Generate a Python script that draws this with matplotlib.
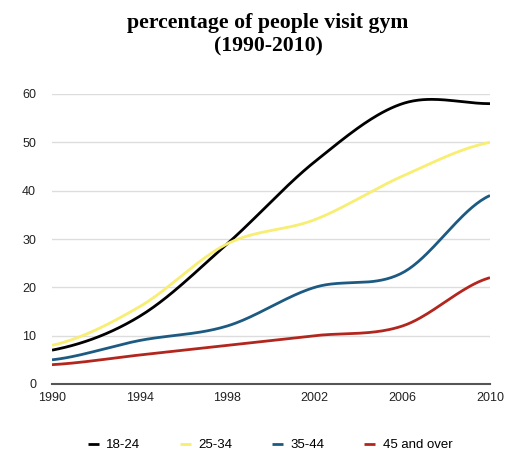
import numpy as np
import matplotlib.pyplot as plt

years = [1990, 1994, 1998, 2002, 2006, 2010]
age_18_24 = [7, 14, 29, 46, 58, 58]
age_25_34 = [8, 16, 29, 34, 43, 50]
age_35_44 = [5, 9, 12, 20, 23, 39]
age_45_over = [4, 6, 8, 10, 12, 22]

series = [("18-24", age_18_24, "#000000"),
          ("25-34", age_25_34, "#f7ee72"),
          ("35-44", age_35_44, "#1d5a82"),
          ("45 and over", age_45_over, "#b3261e")]


def smooth(x, y, n=40, k=0.5):
    # cardinal spline through the points, like the chart's curve mode
    x = np.asarray(x, float)
    y = np.asarray(y, float)
    xs, ys = [], []
    for i in range(len(x) - 1):
        y0 = y[i - 1] if i > 0 else y[i]
        y3 = y[i + 2] if i + 2 < len(y) else y[i + 1]
        m1 = k * (y[i + 1] - y0)
        m2 = k * (y3 - y[i])
        t = np.linspace(0, 1, n)
        h00 = 2 * t**3 - 3 * t**2 + 1
        h10 = t**3 - 2 * t**2 + t
        h01 = -2 * t**3 + 3 * t**2
        h11 = t**3 - t**2
        xs.append(x[i] + t * (x[i + 1] - x[i]))
        ys.append(h00 * y[i] + h10 * m1 + h01 * y[i + 1] + h11 * m2)
    return np.concatenate(xs), np.concatenate(ys)


plt.rcParams['font.family'] = ['Liberation Sans', 'DejaVu Sans']

fig = plt.figure(figsize=(5.12, 4.59), dpi=100)
ax = fig.add_axes([52 / 512, 1 - 384 / 459, 438 / 512, 290 / 459])

for label, vals, color in series:
    sx, sy = smooth(years, vals)
    ax.plot(sx, sy, color=color, lw=2, label=label, solid_capstyle='butt')

ax.set_xlim(1990, 2010)
ax.set_ylim(0, 60)
ax.set_xticks(years)
ax.set_yticks(range(0, 61, 10))
ax.grid(axis='y', color='#dddddd', lw=1)
ax.set_axisbelow(True)
for s in ['top', 'right', 'left']:
    ax.spines[s].set_visible(False)
ax.spines['bottom'].set_color('#555555')
ax.spines['bottom'].set_linewidth(1.5)
ax.tick_params(length=0, labelsize=9, colors='#222222')
ax.tick_params(axis='y', pad=11.5)
ax.tick_params(axis='x', pad=6)

fig.text(268 / 512, 1 - 35 / 459, "percentage of people visit gym\n(1990-2010)",
         ha='center', va='center', fontsize=15.7, fontweight='bold',
         family='Liberation Serif', linespacing=1.25)

fig.legend(loc='center', bbox_to_anchor=(270 / 512, 1 - 445 / 459), ncol=4,
           frameon=False, fontsize=9.5, handlelength=0.85, handletextpad=0.55,
           columnspacing=3.0)

fig.savefig("out.png", dpi=100)
